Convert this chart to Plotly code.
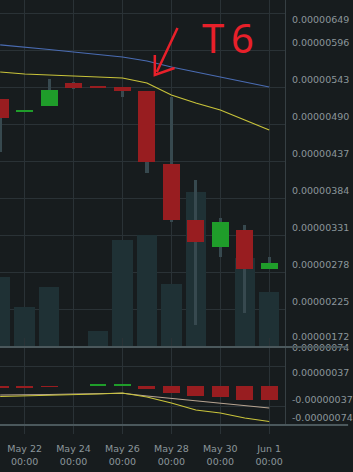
import plotly.graph_objects as go

# ---------------- data ----------------
dates = ["2019-05-21", "2019-05-22", "2019-05-23", "2019-05-24", "2019-05-25", "2019-05-26",
         "2019-05-27", "2019-05-28", "2019-05-29", "2019-05-30", "2019-05-31", "2019-06-01"]
E = 1e-6
open_ = [5.258, 5.072, 5.158, 5.487, 5.444, 5.430, 5.373, 4.327, 3.525, 3.138, 3.382, 2.823]
close = [4.986, 5.100, 5.387, 5.416, 5.416, 5.373, 4.356, 3.525, 3.210, 3.496, 2.823, 2.909]
high = [5.258, 5.100, 5.545, 5.501, 5.444, 5.430, 5.373, 5.287, 4.098, 3.553, 3.453, 2.995]
low = [4.499, 5.072, 5.158, 5.401, 5.416, 5.287, 4.198, 3.496, 2.021, 2.995, 2.193, 2.823]
volume = [7.0, 4.0, 6.0, 0.0, 1.6, 10.7, 11.2, 6.3, 15.5, 0.0, 8.9, 5.5]
ma_blue = [6.032, 6.003, 5.967, 5.931, 5.896, 5.860, 5.802, 5.716, 5.645, 5.573, 5.501, 5.430]
ma_yellow = [5.645, 5.616, 5.602, 5.588, 5.573, 5.559, 5.487, 5.315, 5.201, 5.100, 4.957, 4.814]
macd = [-0.288, -0.274, -0.260, -0.247, -0.219, -0.192, -0.301, -0.466, -0.658, -0.740, -0.877, -0.973]
signal = [-0.247, -0.247, -0.233, -0.219, -0.210, -0.200, -0.274, -0.343, -0.411, -0.466, -0.534, -0.603]
hist = [-0.06, -0.06, -0.02, 0.0, 0.03, 0.03, -0.07, -0.19, -0.28, -0.30, -0.37, -0.37]

price_grid = [1.72, 2.25, 2.78, 3.31, 3.84, 4.37, 4.90, 5.43, 5.96, 6.49]
price_labels = ["0.00000172", "0.00000225", "0.00000278", "0.00000331", "0.00000384",
                "0.00000437", "0.00000490", "0.00000543", "0.00000596", "0.00000649"]
macd_label_anchor = [1.04, 0.36, -0.38, -0.88]
macd_labels = ["0.00000074", "0.00000037", "-0.00000037", "-0.00000074"]
macd_grid = [0.548, -0.548]
x_tick_dates = ["2019-05-22", "2019-05-24", "2019-05-26", "2019-05-28", "2019-05-30", "2019-06-01"]
x_tick_labels = ["May 22<br>00:00", "May 24<br>00:00", "May 26<br>00:00",
                 "May 28<br>00:00", "May 30<br>00:00", "Jun 1<br>00:00"]

# ---------------- style ----------------
W, H = 353, 472
PW, PH = 289, 425           # plot area (px)
BG = "#171c1e"
GRID = "#2a3236"
SEP = "#4b585c"
AXL = "#363f43"
TXT = "#8b969b"
RED = "#981d20"
GREEN = "#1f9d2a"
WICK = "#37494f"
VOL = "#1f3135"
FONT = "DejaVu Sans"
DAY = 86400000

def ypap(px):
    return (PH - px) / PH

PX = 0.53 / 37               # price units per pixel
MPX = 0.0274                 # macd units per pixel
price_range = [(1.72 - 1 * PX) * E, (1.72 + 346 * PX) * E]
macd_range = [(386 - 425) * MPX * E, (386 - 338) * MPX * E]
offs = [9] + [7] * 8 + [-7]  # label sits above its grid line (top one below)
price_lab_pos = [(v + o * PX) * E for v, o in zip(price_grid, offs)]

fig = go.Figure()

# volume (base axis y)
fig.add_trace(go.Bar(x=dates, y=volume, width=0.83 * DAY, marker=dict(color=VOL, line=dict(width=0)),
                     xaxis="x", yaxis="y"))
# wicks
fig.add_trace(go.Bar(x=dates, base=[l * E for l in low], y=[(h - l) * E for h, l in zip(high, low)],
                     width=0.13 * DAY, marker=dict(color=WICK, line=dict(width=0)),
                     xaxis="x", yaxis="y2"))
# bodies
body_base = [min(o, c) * E for o, c in zip(open_, close)]
body_h = [abs(c - o) * E for o, c in zip(open_, close)]
body_col = [GREEN if c >= o else RED for o, c in zip(open_, close)]
fig.add_trace(go.Bar(x=dates, base=body_base, y=body_h, width=0.69 * DAY,
                     marker=dict(color=body_col, line=dict(width=0)), xaxis="x", yaxis="y2"))
# moving averages
fig.add_trace(go.Scatter(x=dates, y=[v * E for v in ma_blue], mode="lines",
                         line=dict(color="#4a6cb3", width=1.2), xaxis="x", yaxis="y2"))
fig.add_trace(go.Scatter(x=dates, y=[v * E for v in ma_yellow], mode="lines",
                         line=dict(color="#c8c33a", width=1.2), xaxis="x", yaxis="y2"))
# MACD
fig.add_trace(go.Bar(x=dates, y=[v * E for v in hist], width=0.69 * DAY,
                     marker=dict(color=[GREEN if v > 0 else RED for v in hist], line=dict(width=0)),
                     xaxis="x2", yaxis="y3"))
fig.add_trace(go.Scatter(x=dates, y=[v * E for v in signal], mode="lines",
                         line=dict(color="#b8a592", width=1.1), xaxis="x2", yaxis="y3"))
fig.add_trace(go.Scatter(x=dates, y=[v * E for v in macd], mode="lines",
                         line=dict(color="#c9c43b", width=1.2), xaxis="x2", yaxis="y3"))

x_range = ["2019-05-20 23:50", "2019-06-01 15:30"]
main_dom = [ypap(347), 1]
macd_dom = [0, ypap(338)]

tickfont = dict(family=FONT, size=9.5, color=TXT)

fig.update_layout(
    width=W, height=H, autosize=False,
    margin=dict(l=0, r=W - PW, t=0, b=H - PH, pad=0),
    paper_bgcolor=BG, plot_bgcolor="rgba(0,0,0,0)",
    showlegend=False, barmode="overlay", bargap=0,
    xaxis=dict(domain=[0, 1], anchor="y", type="date", range=x_range,
               tickmode="array", tickvals=x_tick_dates, showticklabels=False,
               showgrid=True, gridcolor=GRID, gridwidth=1, ticks="", zeroline=False, showline=False),
    xaxis2=dict(domain=[0, 1], anchor="y3", type="date", range=x_range, matches="x",
                tickmode="array", tickvals=x_tick_dates, ticktext=x_tick_labels,
                showgrid=True, gridcolor=GRID, gridwidth=1, ticks="outside", ticklen=8,
                tickcolor=GRID, tickfont=tickfont, ticklabelstandoff=7, showline=False, zeroline=False),
    yaxis=dict(domain=main_dom, anchor="x", range=[0, 34.7], visible=False, showgrid=False),
    yaxis2=dict(overlaying="y", anchor="x", side="right", range=price_range,
                tickmode="array", tickvals=price_lab_pos, ticktext=price_labels,
                showgrid=False, zeroline=False, ticks="", tickfont=tickfont, ticklabelstandoff=4,
                showline=True, linecolor=AXL, linewidth=1,
                minor=dict(tickmode="array", tickvals=[v * E for v in price_grid],
                           showgrid=True, gridcolor=GRID, gridwidth=1, ticks="")),
    yaxis3=dict(domain=macd_dom, anchor="x2", side="right", range=macd_range,
                tickmode="array", tickvals=[v * E for v in macd_label_anchor], ticktext=macd_labels,
                showgrid=False, zeroline=False, ticks="", tickfont=tickfont, ticklabelstandoff=4,
                showline=True, linecolor=AXL, linewidth=1,
                minor=dict(tickmode="array", tickvals=[v * E for v in macd_grid],
                           showgrid=True, gridcolor=GRID, gridwidth=1, ticks="")),
)

# panel separators (full width)
for py in (347, 425):
    fig.add_shape(type="line", xref="paper", yref="paper", x0=0, x1=W / PW, y0=ypap(py), y1=ypap(py),
                  line=dict(color=SEP, width=2), layer="above")

# hand-drawn marking: arrow + "T6"
def P(x, y):
    return f"{x / PW:.5f},{ypap(y):.5f}"

arrow_path = f"M {P(180, 28)} L {P(159, 72)} M {P(157, 55)} L {P(157, 75)} L {P(177, 68)}"
fig.add_shape(type="path", xref="paper", yref="paper", path=arrow_path,
              line=dict(color="#e8202a", width=2.5), layer="above")
fig.add_annotation(xref="paper", yref="paper", x=231 / PW, y=ypap(38), text="T\u20096",
                   showarrow=False, xanchor="center", yanchor="middle",
                   font=dict(family="Noto Sans", size=40, color="#e8202a"))

fig.write_html("out.html")
